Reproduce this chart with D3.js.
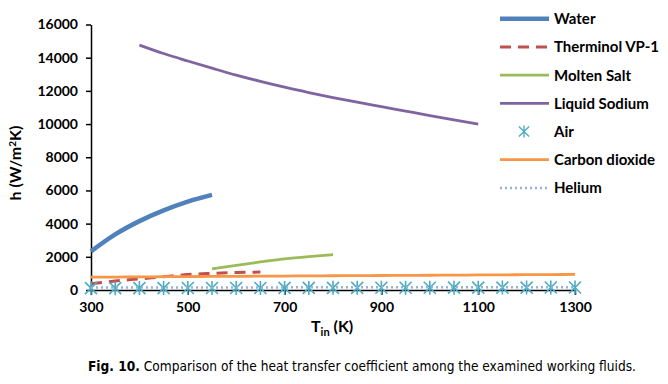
<!DOCTYPE html>
<html lang="en">
<head>
<meta charset="UTF-8">
<title>Heat transfer coefficient</title>
<script src="https://d3js.org/d3.v7.min.js"></script>
<style>
  body { margin: 0; background: #fff; }
  svg text { font-family: Lato, "Open Sans", sans-serif; font-weight: bold; fill: #000; }
</style>
</head>
<body>
<script>

var w = 668;
var h = 384;

// temperatures (K) and h values (W/m2K)
var waterT = [300, 350, 400, 450, 500, 550];
var waterH = [2330, 3350, 4150, 4800, 5330, 5730];

var vpT = [300, 350, 400, 450, 500, 550, 600, 650];
var vpH = [380, 540, 670, 800, 930, 1000, 1050, 1080];

var saltT = [550, 600, 650, 700, 750, 800];
var saltH = [1270, 1490, 1690, 1870, 2010, 2130];

var sodiumT = [400, 450, 500, 550, 600, 650, 700, 750, 800, 850, 900, 950, 1000, 1050, 1100];
var sodiumH = [14760, 14250, 13800, 13370, 12950, 12570, 12220, 11900, 11600, 11320, 11050, 10780, 10510, 10250, 10000];

var gasT = [300, 350, 400, 450, 500, 550, 600, 650, 700, 750, 800, 850, 900, 950, 1000, 1050, 1100, 1150, 1200, 1250, 1300];
var airH = [110, 112, 114, 116, 118, 120, 122, 124, 126, 128, 130, 132, 134, 136, 138, 140, 142, 144, 146, 148, 150];
var co2H = [770, 780, 790, 800, 810, 818, 826, 834, 842, 850, 858, 866, 874, 882, 890, 898, 906, 914, 922, 930, 940];
var heliumH = [150, 151, 152, 153, 154, 155, 156, 157, 158, 159, 160, 161, 162, 163, 164, 165, 166, 167, 168, 169, 170];

var xTicks = [300, 500, 700, 900, 1100, 1300];
var yTicks = [0, 2000, 4000, 6000, 8000, 10000, 12000, 14000, 16000];

var series = [
    { name: "Water", t: waterT, v: waterH, color: "#4F81BD", width: 4.5, dash: null },
    { name: "Therminol VP-1", t: vpT, v: vpH, color: "#C0504D", width: 3, dash: "11,7" },
    { name: "Molten Salt", t: saltT, v: saltH, color: "#9BBB59", width: 2.8, dash: null },
    { name: "Liquid Sodium", t: sodiumT, v: sodiumH, color: "#8064A2", width: 2.8, dash: null },
    { name: "Air", t: gasT, v: airH, color: "#4BACC6", marker: true },
    { name: "Carbon dioxide", t: gasT, v: co2H, color: "#F79646", width: 2.8, dash: null },
    { name: "Helium", t: gasT, v: heliumH, color: "#95B3D7", width: 2.5, dash: "2,3" }
];

var x = d3.scaleLinear().domain([300, 1300]).range([91, 575]);
var y = d3.scaleLinear().domain([0, 16000]).range([290, 24.5]);

var svg = d3.select("body").append("svg")
    .attr("width", w)
    .attr("height", h);

// axes
var yAxis = svg.append("g")
    .attr("transform", "translate(" + x(300) + ",0)")
    .call(d3.axisLeft(y).tickValues(yTicks).tickFormat(d3.format("d")).tickSize(5).tickSizeOuter(0).tickPadding(8));

var xAxis = svg.append("g")
    .attr("transform", "translate(0," + y(0) + ")")
    .call(d3.axisBottom(x).tickValues(xTicks).tickFormat(d3.format("d")).tickSize(5).tickSizeOuter(0).tickPadding(7));

svg.selectAll(".domain, .tick line").attr("stroke", "#000").attr("stroke-width", 1.5);
svg.selectAll(".tick text").attr("font-size", "14px").attr("font-family", "Lato, sans-serif").attr("font-weight", "bold");

// lines
var line = d3.line()
    .x(function(d) { return x(d[0]); })
    .y(function(d) { return y(d[1]); })
    .curve(d3.curveMonotoneX);

var star = "M-6,-6L6,6M-6,6L6,-6M0,-7L0,7";

series.forEach(function(s) {
    var pts = s.t.map(function(t, i) { return [t, s.v[i]]; });
    if (s.marker) {
        svg.append("g").selectAll("path")
            .data(pts)
            .enter()
            .append("path")
            .attr("d", star)
            .attr("transform", function(d) { return "translate(" + x(d[0]) + "," + y(d[1]) + ")"; })
            .attr("fill", "none")
            .attr("stroke", s.color)
            .attr("stroke-width", 1.6);
    } else {
        svg.append("path")
            .datum(pts)
            .attr("d", line)
            .attr("fill", "none")
            .attr("stroke", s.color)
            .attr("stroke-width", s.width)
            .attr("stroke-dasharray", s.dash);
    }
});

// legend
var legend = svg.append("g").selectAll("g")
    .data(series)
    .enter()
    .append("g")
    .attr("transform", function(d, i) { return "translate(0," + (18.7 + i * 28.2) + ")"; });

legend.each(function(s) {
    var g = d3.select(this);
    if (s.marker) {
        g.append("path")
            .attr("d", star)
            .attr("transform", "translate(524,0) scale(0.85)")
            .attr("fill", "none")
            .attr("stroke", s.color)
            .attr("stroke-width", 1.6);
    } else {
        g.append("line")
            .attr("x1", 500).attr("x2", 549)
            .attr("stroke", s.color)
            .attr("stroke-width", s.width)
            .attr("stroke-dasharray", s.dash);
    }
    g.append("text")
        .attr("x", 554)
        .attr("y", 5.5)
        .attr("font-size", "15px")
        .text(s.name);
});

// axis titles
var yt = svg.append("text")
    .attr("transform", "translate(21,163) rotate(-90)")
    .attr("text-anchor", "middle")
    .attr("font-size", "16px");
yt.append("tspan").text("h (W/m");
yt.append("tspan").attr("dy", -5).attr("font-size", "10px").text("2");
yt.append("tspan").attr("dy", 5).text("K)");

var xt = svg.append("text")
    .attr("x", 311)
    .attr("y", 332)
    .attr("font-size", "16px");
xt.append("tspan").text("T");
xt.append("tspan").attr("dy", 4).attr("font-size", "11px").text("in");
xt.append("tspan").attr("dy", -4).text(" (K)");

// caption
var cap = svg.append("text")
    .attr("x", 88)
    .attr("y", 371)
    .attr("font-size", "14px")
    .attr("textLength", 548)
    .attr("lengthAdjust", "spacingAndGlyphs")
    .style("font-family", "'Liberation Sans Narrow', 'DejaVu Sans Condensed', sans-serif");
cap.append("tspan").style("font-weight", "bold").text("Fig. 10.");
cap.append("tspan").style("font-weight", "normal").text(" Comparison of the heat transfer coefficient among the examined working fluids.");

</script>
</body>
</html>
